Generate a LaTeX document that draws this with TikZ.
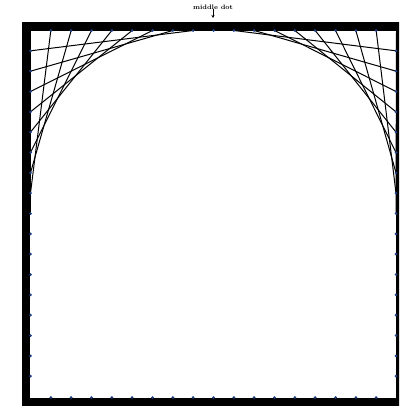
\documentclass[tikz,border=0pt]{standalone}
\usetikzlibrary{arrows.meta}
\begin{document}
\begin{tikzpicture}[x=1pt,y=-1pt,
  frame/.style={line width=8pt},
  string/.style={line width=1pt,black},
  pin/.style={circle,fill={rgb,255:red,30;green,60;blue,130},inner sep=0pt,minimum size=3pt},
  lbl/.style={font=\fontsize{6.5}{7}\selectfont\bfseries,inner sep=0pt}]
\useasboundingbox (0,0) rectangle (399,409);
\clip (0,0) rectangle (399,409);
\def\Lx{30.5}\def\Rx{396}\def\Ty{30.5}\def\By{397.5}\def\s{20.3333}
\draw[frame] (26,26.5) rectangle (400,401.5);
\foreach \i in {0,...,18}{
  \coordinate (L\i) at (\Lx,\Ty+\i*\s);
  \coordinate (R\i) at (\Rx,\Ty+\i*\s);
  \coordinate (T\i) at (\Lx+\i*\s,\Ty);
  \coordinate (B\i) at (\Lx+\i*\s,\By);
}
\foreach \j in {0,...,9}{
  \pgfmathtruncatemacro{\a}{9-\j}
  \pgfmathtruncatemacro{\b}{18-\j}
  \draw[string] (L\a) -- (T\j);
  \draw[string] (R\a) -- (T\b);
}
\foreach \i in {1,...,17}{
  \node[pin] (pl\i) at (L\i) {};
  \node[pin] (pr\i) at (R\i) {};
  \node[pin] (pt\i) at (T\i) {};
  \node[pin] (pb\i) at (B\i) {};
}
\node[lbl] (md) at (213,7) {middle dot};
\coordinate (mdend) at (213,18);
\draw[-{Stealth[length=3pt,width=3pt]},line width=0.7pt] (md.south) -- (mdend);
\end{tikzpicture}
\end{document}
